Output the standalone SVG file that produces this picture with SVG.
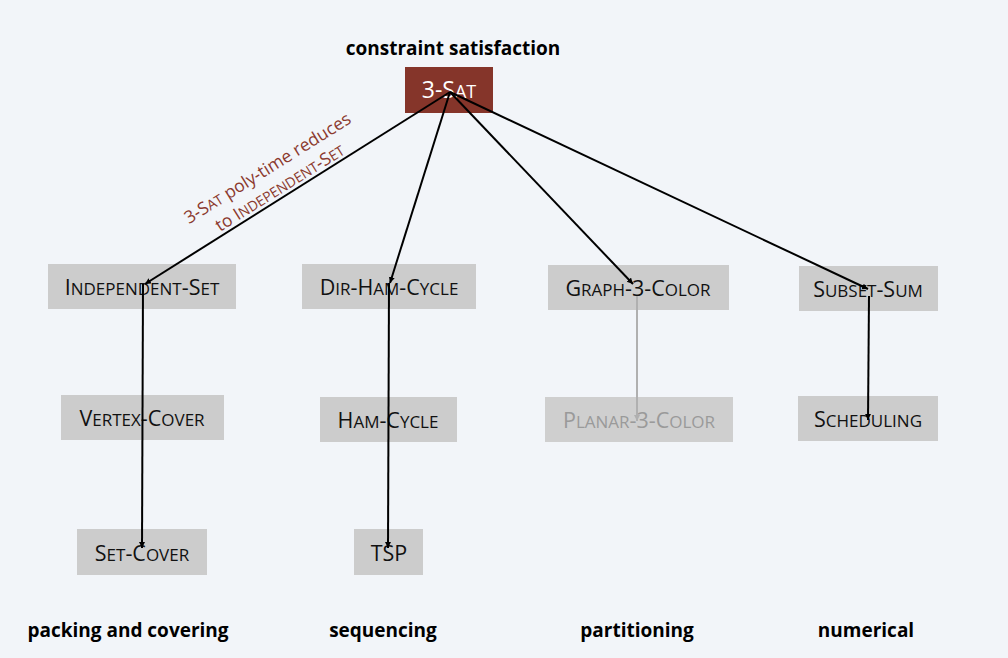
<svg xmlns="http://www.w3.org/2000/svg" width="1008" height="658" viewBox="0 0 1008 658">
<style>
.bg{fill:#f2f5f9}
.box{fill:#cccccc}
.nt{font-family:"Open Sans","Noto Sans",sans-serif;font-size:21.5px;fill:#111;text-anchor:middle}
.s{font-size:17px}
.ht{font-family:"Open Sans","Noto Sans",sans-serif;font-size:19px;font-weight:bold;fill:#000;text-anchor:middle}
.e{stroke:#000;stroke-width:2;fill:none;marker-end:url(#ah)}
.eg{stroke:#b0b0b0;stroke-width:2;fill:none;marker-end:url(#ahg)}
.lbl{font-family:"Open Sans","Noto Sans",sans-serif;font-size:17.5px;fill:#8b3a2e;text-anchor:middle}
.ls{font-size:14px}
</style>
<defs>
<marker id="ah" markerWidth="8" markerHeight="8" refX="6" refY="3" orient="auto" markerUnits="userSpaceOnUse"><path d="M0,0 L6,3 L0,6 Z" fill="#000"/></marker>
<marker id="ahg" markerWidth="8" markerHeight="8" refX="6" refY="3" orient="auto" markerUnits="userSpaceOnUse"><path d="M0,0 L6,3 L0,6 Z" fill="#b0b0b0"/></marker>
</defs>
<rect class="bg" x="0" y="0" width="1008" height="658"/>
<g id="headers">
<text class="ht" x="453" y="55">constraint satisfaction</text>
<text class="ht" x="128" y="637">packing and covering</text>
<text class="ht" x="383" y="637">sequencing</text>
<text class="ht" x="637" y="637">partitioning</text>
<text class="ht" x="866" y="637">numerical</text>
</g>
<g id="n-3sat"><rect x="405" y="67" width="88" height="46" fill="#85352a"/><text class="nt" x="449" y="98" style="fill:#fff;font-size:23px">3-S<tspan style="font-size:18px">AT</tspan></text></g>
<g id="n-indset"><rect class="box" x="48" y="264" width="188" height="45"/><text class="nt" x="142" y="295">I<tspan class="s">NDEPENDENT</tspan>-S<tspan class="s">ET</tspan></text></g>
<g id="n-dirham"><rect class="box" x="302" y="264" width="174" height="45"/><text class="nt" x="389" y="295">D<tspan class="s">IR</tspan>-H<tspan class="s">AM</tspan>-C<tspan class="s">YCLE</tspan></text></g>
<g id="n-g3c"><rect class="box" x="548" y="265" width="181" height="45"/><text class="nt" x="638" y="296">G<tspan class="s">RAPH</tspan>-3-C<tspan class="s">OLOR</tspan></text></g>
<g id="n-subset"><rect class="box" x="799" y="266" width="139" height="45"/><text class="nt" x="868" y="297">S<tspan class="s">UBSET</tspan>-S<tspan class="s">UM</tspan></text></g>
<g id="n-vc"><rect class="box" x="61" y="395" width="163" height="45"/><text class="nt" x="142" y="426">V<tspan class="s">ERTEX</tspan>-C<tspan class="s">OVER</tspan></text></g>
<g id="n-ham"><rect class="box" x="320" y="397" width="137" height="45"/><text class="nt" x="388" y="428">H<tspan class="s">AM</tspan>-C<tspan class="s">YCLE</tspan></text></g>
<g id="n-p3c"><rect x="545" y="397" width="188" height="45" fill="#cfcfcf"/><text class="nt" x="639" y="428" style="fill:#9a9a9a">P<tspan class="s">LANAR</tspan>-3-C<tspan class="s">OLOR</tspan></text></g>
<g id="n-sched"><rect class="box" x="798" y="396" width="140" height="45"/><text class="nt" x="868" y="427">S<tspan class="s">CHEDULING</tspan></text></g>
<g id="n-setcover"><rect class="box" x="77" y="529" width="130" height="46"/><text class="nt" x="142" y="561">S<tspan class="s">ET</tspan>-C<tspan class="s">OVER</tspan></text></g>
<g id="n-tsp"><rect class="box" x="354" y="529" width="69" height="46"/><text class="nt" x="389" y="561">TSP</text></g>
<g id="connectors">
<path class="e" d="M450,92 L145,284"/>
<path class="e" d="M450,92 L390,283"/>
<path class="e" d="M450,92 L633,284"/>
<path class="e" d="M450,92 L868,289"/>
<path class="e" d="M143,284 L142,548"/>
<path class="e" d="M389,283 L388,548"/>
<path class="eg" d="M637,296 L637,421"/>
<path class="e" d="M869,296 L868,420"/>
</g>
<g id="edge-label" transform="translate(275,180) rotate(-32)">
<text class="lbl" x="0" y="-8">3-S<tspan class="ls">AT</tspan> poly-time reduces</text>
<text class="lbl" x="0" y="15">to I<tspan class="ls">NDEPENDENT</tspan>-S<tspan class="ls">ET</tspan></text>
</g>
</svg>
